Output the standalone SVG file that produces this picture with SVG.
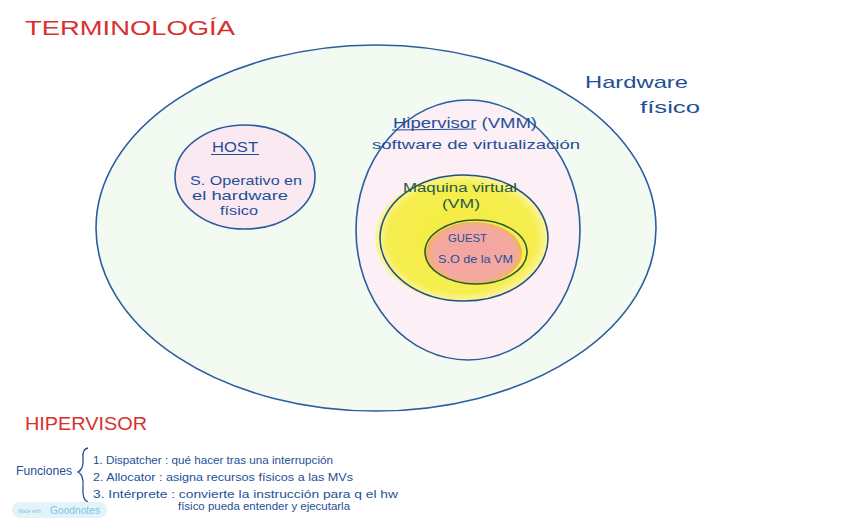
<svg xmlns="http://www.w3.org/2000/svg" width="848" height="530" viewBox="0 0 848 530">
<style>
.ink{fill:#1f4f98;font-family:"Liberation Sans",Arial,sans-serif}
.red{fill:#d8302c;font-family:"Liberation Sans",Arial,sans-serif}
.vmt{fill:#1f5a4a;font-family:"Liberation Sans",Arial,sans-serif}
</style>
<defs>
<radialGradient id="yel" cx="0.5" cy="0.5" r="0.5">
<stop offset="0" stop-color="#f5ec3c"/>
<stop offset="0.85" stop-color="#f6ee50"/>
<stop offset="1" stop-color="#faf6a8"/>
</radialGradient>
<radialGradient id="gst" cx="0.5" cy="0.5" r="0.5">
<stop offset="0" stop-color="#f4a4a0"/>
<stop offset="0.85" stop-color="#f4a9a0"/>
<stop offset="1" stop-color="#f3b45a"/>
</radialGradient>
</defs>
<rect width="848" height="530" fill="#ffffff"/>
<text class="red" x="25" y="35" font-size="20" textLength="210" lengthAdjust="spacingAndGlyphs">TERMINOLOGÍA</text>
<g id="hardware">
<ellipse cx="376" cy="228" rx="280" ry="183" fill="#f3faf1" stroke="#2a5d9f" stroke-width="1.6"/>
<text class="ink" x="585" y="88" font-size="17" textLength="103" lengthAdjust="spacingAndGlyphs">Hardware</text>
<text class="ink" x="640" y="113" font-size="17" textLength="60" lengthAdjust="spacingAndGlyphs">físico</text>
</g>
<g id="host">
<ellipse cx="245" cy="177" rx="70" ry="52" fill="#fbe9f1" stroke="#2a5d9f" stroke-width="1.6"/>
<text class="ink" x="212" y="152" font-size="15" textLength="46" lengthAdjust="spacingAndGlyphs">HOST</text>
<line x1="211" y1="154.5" x2="259" y2="154.5" stroke="#1f4f98" stroke-width="1.2"/>
<text class="ink" x="190" y="185" font-size="13" textLength="112" lengthAdjust="spacingAndGlyphs">S. Operativo en</text>
<text class="ink" x="192" y="200" font-size="13" textLength="96" lengthAdjust="spacingAndGlyphs">el hardware</text>
<text class="ink" x="220" y="215" font-size="13" textLength="38" lengthAdjust="spacingAndGlyphs">físico</text>
</g>
<g id="hipervisor">
<ellipse cx="468" cy="230" rx="112" ry="130" fill="#fcf0f6" stroke="#2a5d9f" stroke-width="1.6"/>
<text class="ink" x="393" y="128" font-size="14" textLength="144" lengthAdjust="spacingAndGlyphs">Hipervisor (VMM)</text>
<line x1="392" y1="130" x2="476" y2="129" stroke="#1f4f98" stroke-width="1.2"/>
<text class="ink" x="372" y="149" font-size="13" textLength="208" lengthAdjust="spacingAndGlyphs">software de virtualización</text>
</g>
<g id="vm">
<ellipse cx="462" cy="238" rx="87" ry="64" fill="url(#yel)"/>
<ellipse cx="464" cy="238" rx="84" ry="63" fill="none" stroke="#24508f" stroke-width="1.6"/>
<text class="vmt" x="403" y="192" font-size="12" textLength="114" lengthAdjust="spacingAndGlyphs">Maquina virtual</text>
<text class="vmt" x="442" y="208" font-size="12" textLength="38" lengthAdjust="spacingAndGlyphs">(VM)</text>
</g>
<g id="guest">
<ellipse cx="474" cy="253" rx="48" ry="31" fill="url(#gst)"/>
<ellipse cx="476" cy="252" rx="51" ry="32" fill="none" stroke="#2c5a3e" stroke-width="1.6"/>
<text class="ink" x="448" y="242" font-size="11" textLength="39" lengthAdjust="spacingAndGlyphs">GUEST</text>
<text class="ink" x="438" y="263" font-size="11" textLength="75" lengthAdjust="spacingAndGlyphs">S.O de la VM</text>
</g>
<g id="connectors"></g>
<g id="funciones">
<text class="red" x="25" y="430" font-size="19" textLength="122" lengthAdjust="spacingAndGlyphs">HIPERVISOR</text>
<text class="ink" x="16" y="475" font-size="13" textLength="56" lengthAdjust="spacingAndGlyphs">Funciones</text>
<path d="M88 448 Q82 449 83 458 Q84 469 78 472 Q84 475 83 487 Q82 500 88 502" fill="none" stroke="#1f4f98" stroke-width="1.3"/>
<text class="ink" x="93" y="464" font-size="11" textLength="240" lengthAdjust="spacingAndGlyphs">1. Dispatcher : qué hacer tras una interrupción</text>
<text class="ink" x="93" y="481" font-size="11" textLength="260" lengthAdjust="spacingAndGlyphs">2. Allocator : asigna recursos físicos a las MVs</text>
<text class="ink" x="93" y="498" font-size="11" textLength="305" lengthAdjust="spacingAndGlyphs">3. Intérprete : convierte la instrucción para q el hw</text>
<text class="ink" x="178" y="510" font-size="11" textLength="172" lengthAdjust="spacingAndGlyphs">físico pueda entender y ejecutarla</text>
</g>
<g id="badge">
<rect x="12" y="502" width="95" height="16" rx="8" fill="#e3f3fa"/>
<text x="18" y="513" font-family="Liberation Sans,Arial,sans-serif" font-size="5" fill="#7cc3de">Made with</text>
<text x="50" y="514" font-family="Liberation Sans,Arial,sans-serif" font-size="10" fill="#7cc3de" textLength="50" lengthAdjust="spacingAndGlyphs">Goodnotes</text>
</g>
</svg>
